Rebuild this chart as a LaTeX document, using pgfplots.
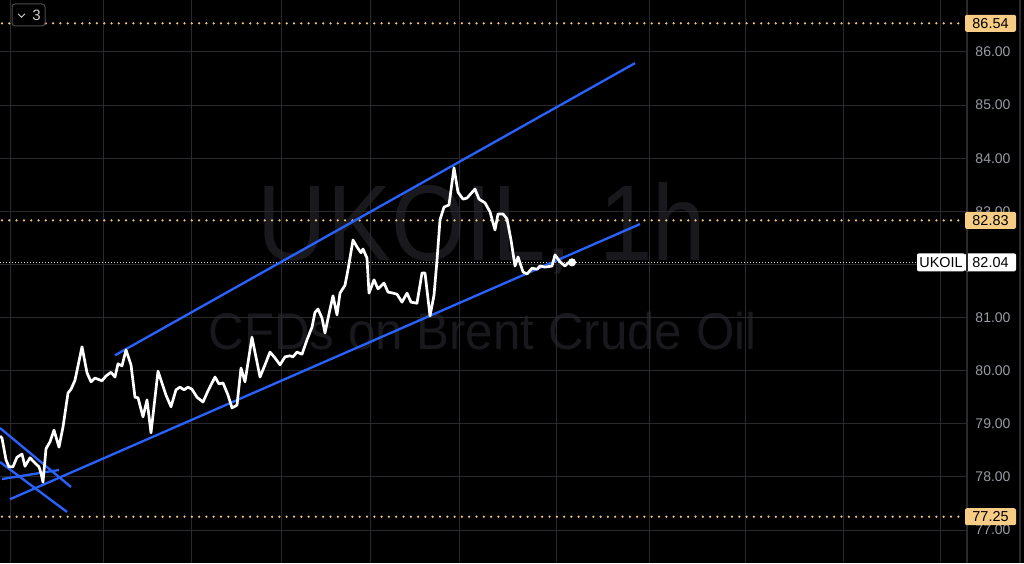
\documentclass[border=0pt]{standalone}
\usepackage{pgfplots}
\pgfplotsset{compat=1.18}
\usepackage{fontspec}
\setmainfont{Liberation Sans}

\definecolor{gridc}{HTML}{2A2A2E}
\definecolor{tickc}{HTML}{9A9CA5}
\definecolor{wm}{HTML}{19191D}
\definecolor{chan}{HTML}{2962FF}
\definecolor{lvl}{HTML}{F2C57C}
\definecolor{lvlbox}{HTML}{F7CD85}

% hourly closes, x in chart pixels
\pgfplotstableread{
x   p
0   78.77
2   78.73
6   78.32
9   78.19
13  78.19
17  78.37
22  78.43
25  78.20
30  78.36
35  78.26
39  78.19
41  78.07
43  77.90
46  78.53
50  78.66
54  78.88
59  78.56
63  78.94
68  79.58
71  79.65
75  79.82
82  80.45
87  79.96
91  79.79
95  79.86
102 79.81
106 79.90
111 79.97
115 79.88
118 80.13
122 80.09
126 80.39
131 80.11
135 79.50
138 79.49
143 79.13
147 79.45
151 78.83
158 79.99
166 79.54
171 79.32
176 79.64
180 79.69
184 79.64
188 79.69
192 79.65
197 79.50
203 79.41
208 79.62
215 79.88
219 79.75
223 79.77
228 79.54
232 79.30
237 79.35
241 80.05
245 79.79
252 80.63
260 79.88
265 80.11
270 80.35
275 80.24
280 80.11
285 80.26
290 80.28
293 80.26
297 80.35
302 80.31
307 80.58
312 80.82
315 81.10
318 81.16
322 80.99
325 80.71
329 81.07
333 81.41
337 81.05
340 81.46
345 81.61
348 81.90
353 82.46
357 82.33
361 82.22
363 82.29
367 82.12
369 81.46
374 81.71
378 81.54
384 81.65
388 81.48
393 81.46
397 81.44
402 81.29
407 81.46
411 81.29
417 81.27
422 81.84
425 81.84
430 81.03
434 81.42
437 82.08
440 82.84
444 83.08
449 83.12
454 83.82
458 83.36
463 83.23
467 83.25
475 83.42
479 83.23
485 83.16
490 82.99
495 82.65
498 82.95
503 82.95
507 82.86
511 82.46
515 81.97
518 82.14
523 81.86
527 81.82
532 81.93
537 81.91
540 81.97
545 81.95
552 81.97
555 82.18
560 82.05
565 81.97
568 82.03
572 82.04
}\price

\begin{document}
\begin{tikzpicture}
\fill[black] (0,0) rectangle (512pt,281.5pt);
\clip (0,0) rectangle (512pt,281.5pt);

% watermark
\node[text=wm, font=\fontsize{53.8pt}{60pt}\selectfont, xscale=0.892, anchor=base, inner sep=0pt] at (241pt,151pt) {UKOIL, 1h};
\node[text=wm, font=\fontsize{25.8pt}{30pt}\selectfont, xscale=0.955, anchor=base, inner sep=0pt] at (241.25pt,106.5pt) {CFDs on Brent Crude Oil};

\begin{axis}[
  at={(0,0)}, anchor=south west,
  scale only axis, width=483.5pt, height=281.5pt,
  xmin=0, xmax=967, ymin=76.379, ymax=86.979,
  axis line style={draw=none},
  grid=major, grid style={gridc, line width=0.5pt},
  xtick={10,103,191,281,370,459,556,649,745,843,940},
  xticklabels={},
  ytick={77,78,...,87},
  yticklabel pos=right,
  major tick length=0pt,
  yticklabel style={anchor=center, xshift=13pt, text=tickc,
    font=\fontsize{7pt}{8pt}\selectfont},
  /pgf/number format/.cd, fixed, fixed zerofill, precision=2,
  assume math mode=true,
  /pgfplots/.cd,
  clip=false,
]
% levels
\addplot[lvl, line width=1.25pt, line cap=round, dash pattern=on 0pt off 3.65pt] coordinates {(2,86.54) (965,86.54)};
\addplot[lvl, line width=1.25pt, line cap=round, dash pattern=on 0pt off 3.65pt] coordinates {(2,82.83) (965,82.83)};
\addplot[lvl, line width=1.25pt, line cap=round, dash pattern=on 0pt off 3.65pt] coordinates {(2,77.25) (965,77.25)};
\addplot[white!85!black, line width=0.5pt, dash pattern=on 0.5pt off 1pt] coordinates {(0,82.04) (917,82.04)};

% trend lines
\addplot[chan, line width=1.15pt] coordinates {(115,80.29) (635,85.79)};
\addplot[chan, line width=1.15pt] coordinates {(10,77.58) (640,82.76)};
\addplot[chan, line width=1.15pt] coordinates {(0,78.92) (71,77.81)};
\addplot[chan, line width=1.15pt] coordinates {(0,78.28) (67,77.34)};
\addplot[chan, line width=1.15pt] coordinates {(2,77.96) (59,78.13)};

% price
\addplot[white, line width=1.35pt, line join=round] table[x=x, y=p] {\price};
\addplot[white, only marks, mark=*, mark size=1.8pt] coordinates {(572,82.04)};

\coordinate (a) at (axis cs:967,86.54);
\coordinate (b) at (axis cs:967,82.83);
\coordinate (c) at (axis cs:967,77.25);
\coordinate (d) at (axis cs:967,82.04);
\end{axis}

% price scale border
\draw[gridc, line width=0.6pt] (483.5pt,0) -- (483.5pt,281.5pt);
\draw[gridc, line width=0.6pt] (510pt,0) -- (510pt,281.5pt);

% level labels
\tikzset{lab/.style={rounded corners=1pt, minimum height=8.5pt, inner sep=0pt,
  font=\fontsize{7.2pt}{8pt}\selectfont, text=black}}
\node[lab, fill=lvlbox, minimum width=25.5pt] at ([xshift=11.75pt]a) {86.54};
\node[lab, fill=lvlbox, minimum width=25.5pt] at ([xshift=11.75pt]b) {82.83};
\node[lab, fill=lvlbox, minimum width=25.5pt] at ([xshift=11.75pt]c) {77.25};
\node[lab, fill=white, minimum width=24pt, minimum height=9pt] at ([xshift=-13pt]d) {UKOIL};
\node[lab, fill=white, minimum width=25.5pt, minimum height=9pt] at ([xshift=11.75pt]d) {82.04};
\draw[gridc, line width=0.6pt] ([yshift=-4.5pt]d) -- ([yshift=4.5pt]d);

% collapse button
\draw[draw=gray!60!black, fill=black, rounded corners=1.5pt, line width=0.5pt] (6pt,268.5pt) rectangle (22.5pt,279.5pt);
\draw[white!80!black, line width=0.5pt] (9pt,274.6pt) -- (10.75pt,272.9pt) -- (12.5pt,274.6pt);
\node[text=white!80!black, font=\fontsize{7.5pt}{8pt}\selectfont, inner sep=0pt] at (18.25pt,274pt) {3};
\end{tikzpicture}
\end{document}
